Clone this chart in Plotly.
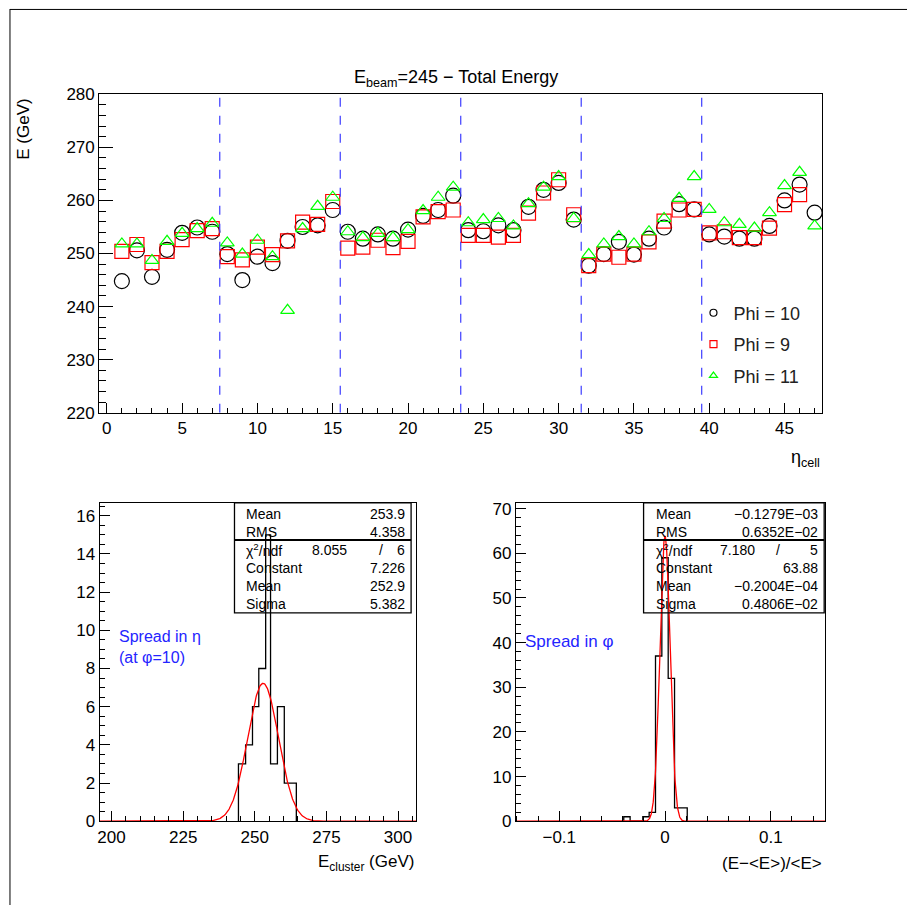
import numpy as np
import plotly.graph_objects as go

# ---------------- data ----------------
eta_cell = list(range(1, 48))

e_phi10 = [244.8, 250.6, 245.6, 250.7, 253.9, 254.9, 254.1, 249.9, 245.0, 249.4,
           248.2, 252.4, 255.0, 255.3, 258.2, 254.1, 252.8, 253.6, 252.8, 254.5,
           257.1, 258.2, 260.9, 254.4, 254.2, 255.3, 254.4, 258.8, 262.0, 263.3,
           256.4, 247.7, 249.9, 252.2, 249.8, 252.8, 254.9, 259.3, 258.3, 253.6,
           253.2, 252.8, 252.8, 255.2, 260.0, 263.0, 257.7]

e_phi9 = [250.4, 251.7, 248.3, 250.4, 252.6, 254.3, 254.7, 249.4, 248.8, 251.2,
          249.8, 252.4, 255.9, 255.5, 259.8, 251.0, 251.2, 252.5, 251.1, 252.3,
          256.9, 257.9, 258.2, 253.4, 253.4, 253.1, 253.4, 257.6, 261.4, 263.9,
          257.3, 247.7, 249.9, 249.3, 249.9, 252.2, 256.1, 258.2, 258.3, 253.9,
          254.1, 253.0, 253.0, 254.8, 259.2, 261.1, None]

e_phi11 = [251.8, 251.8, 248.7, 252.3, 253.8, 254.7, 255.7, 252.0, 249.9, 252.5,
           249.4, 239.3, 254.7, 258.9, 260.6, 254.1, 253.0, 253.8, 253.0, 254.5,
           258.1, 260.6, 262.5, 255.8, 256.4, 256.6, 255.2, 259.4, 262.5, 264.5,
           256.6, 249.8, 251.8, 253.2, 251.8, 254.1, 256.6, 260.4, 264.5, 258.3,
           255.8, 255.5, 254.8, 257.7, 262.8, 265.3, 255.2]

module_edges = [7.5, 15.5, 23.5, 31.5, 39.5]

# spread in eta (phi = 10): cluster energy histogram
eta_bin_edges = [244.3, 246.8, 249.2, 251.4, 253.8, 255.5, 257.9, 260.3, 262.4, 264.5]
eta_counts = [3, 4, 6, 8, 15, 3, 6, 2, 2]
eta_stats = {"mean": 253.9, "rms": 4.358}
eta_fit = {"chi2": 8.055, "ndf": 6, "const": 7.226, "mean": 252.9, "sigma": 5.382}

# spread in phi: relative deviation histogram
phi_bin_edges = [-0.039, -0.033, -0.027, -0.021, -0.015, -0.009, -0.003,
                 0.003, 0.009, 0.015, 0.021]
phi_counts = [1, 0, 0, 1, 2, 37, 59, 32, 3, 3]
phi_stats = {"mean": "-0.1279E-03", "rms": "0.6352E-02"}
phi_fit = {"chi2": 7.180, "ndf": 5, "const": 63.88, "mean": -0.2004e-04, "sigma": 0.4806e-02}
phi_fit_text = {"const": "63.88", "mean": "-0.2004E-04", "sigma": "0.4806E-02"}

# ---------------- layout helpers ----------------
# positions below are given in window pixels; the page shows the figure a few
# pixels below the window top and slightly squeezed vertically
W = 907
H = 916
Y_SCALE = 0.978
Y_SHIFT = 9
FONT = "Liberation Sans"
MINUS = "\u2212"


def px(x):
    return x / W


def py(y):
    return 1 - (y / Y_SCALE - Y_SHIFT) / H


fig = go.Figure()

# top panel: total energy vs eta cell
fig.add_trace(go.Scatter(x=eta_cell, y=e_phi10, mode="markers", showlegend=False,
                         marker=dict(symbol="circle-open", size=15, color="black",
                                     line=dict(width=1.2)),
                         xaxis="x", yaxis="y"))
fig.add_trace(go.Scatter(x=eta_cell, y=e_phi9, mode="markers", showlegend=False,
                         marker=dict(symbol="square-open", size=14, color="red",
                                     line=dict(width=1.2)),
                         xaxis="x", yaxis="y"))
fig.add_trace(go.Scatter(x=eta_cell, y=e_phi11, mode="markers", showlegend=False,
                         marker=dict(symbol="triangle-up-open", size=12, color="#00ff00",
                                     line=dict(width=1.2)),
                         xaxis="x", yaxis="y"))

# legend entries with small symbols
for name, sym, col in [("Phi = 10", "circle-open", "black"),
                       ("Phi = 9", "square-open", "red"),
                       ("Phi = 11", "triangle-up-open", "#00ff00")]:
    fig.add_trace(go.Scatter(x=[None], y=[None], mode="markers", name=name,
                             legendgroup=name,
                             marker=dict(symbol=sym, size=7, color=col, line=dict(width=1.2)),
                             xaxis="x", yaxis="y"))

# module boundaries
for xe in module_edges:
    fig.add_shape(type="line", xref="x", yref="y", x0=xe, x1=xe, y0=220, y1=280,
                  line=dict(color="#3c3cff", width=1.2, dash="dash"))


def step_xy(edges, counts):
    xs = [edges[0]] + list(edges)
    ys = [0] + list(counts) + [0]
    return xs, ys


def gauss(x, c, m, s):
    return c * np.exp(-0.5 * ((x - m) / s) ** 2)


ETA_RANGE = [195.9, 306.3]
PHI_RANGE = [-0.141, 0.1514]

# bottom-left histogram
hx, hy = step_xy(eta_bin_edges, eta_counts)
fig.add_trace(go.Scatter(x=hx, y=hy, mode="lines", line_shape="hv", showlegend=False,
                         line=dict(color="black", width=1.3), xaxis="x2", yaxis="y2"))
gx = np.linspace(ETA_RANGE[0], ETA_RANGE[1], 600)
fig.add_trace(go.Scatter(x=gx, y=gauss(gx, eta_fit["const"], eta_fit["mean"], eta_fit["sigma"]),
                         mode="lines", showlegend=False, line=dict(color="red", width=1.3),
                         xaxis="x2", yaxis="y2"))

# bottom-right histogram
hx, hy = step_xy(phi_bin_edges, phi_counts)
fig.add_trace(go.Scatter(x=hx, y=hy, mode="lines", line_shape="hv", showlegend=False,
                         line=dict(color="black", width=1.3), xaxis="x3", yaxis="y3"))
gx = np.linspace(PHI_RANGE[0], PHI_RANGE[1], 1500)
fig.add_trace(go.Scatter(x=gx, y=gauss(gx, phi_fit["const"], phi_fit["mean"], phi_fit["sigma"]),
                         mode="lines", showlegend=False, line=dict(color="red", width=1.3),
                         xaxis="x3", yaxis="y3"))

tickfont = dict(family=FONT, size=17, color="black")
axis_common = dict(showline=True, linecolor="black", linewidth=1.2, mirror=True,
                   ticks="inside", tickcolor="black", showgrid=False, zeroline=False,
                   tickfont=tickfont)

fig.update_layout(
    width=W, height=H, margin=dict(l=0, r=0, t=0, b=0),
    paper_bgcolor="white", plot_bgcolor="white",
    font=dict(family=FONT, color="black"),
    xaxis=dict(domain=[px(97.5), px(822)], anchor="y", range=[-0.5, 47.5],
               tick0=0, dtick=5, ticklen=10,
               minor=dict(dtick=1, ticklen=5, ticks="inside", tickcolor="black"),
               **axis_common),
    yaxis=dict(domain=[py(412), py(94)], anchor="x", range=[220, 280],
               dtick=10, ticklen=14,
               minor=dict(dtick=2, ticklen=7, ticks="inside", tickcolor="black"),
               **axis_common),
    xaxis2=dict(domain=[px(98), px(415)], anchor="y2", range=ETA_RANGE,
                tick0=200, dtick=25, ticklen=10,
                minor=dict(dtick=5, ticklen=5, ticks="inside", tickcolor="black"),
                **axis_common),
    yaxis2=dict(domain=[py(820), py(502)], anchor="x2", range=[0, 16.68],
                dtick=2, ticklen=10,
                minor=dict(dtick=0.5, ticklen=5, ticks="inside", tickcolor="black"),
                **axis_common),
    xaxis3=dict(domain=[px(515), px(825)], anchor="y3", range=PHI_RANGE,
                tick0=0, dtick=0.1, ticklen=10,
                minor=dict(dtick=0.02, ticklen=5, ticks="inside", tickcolor="black"),
                **axis_common),
    yaxis3=dict(domain=[py(820), py(502)], anchor="x3", range=[0, 71.3],
                dtick=10, ticklen=10,
                minor=dict(dtick=2, ticklen=5, ticks="inside", tickcolor="black"),
                **axis_common),
    legend=dict(x=px(693), y=py(294), xanchor="left", yanchor="top",
                bgcolor="rgba(0,0,0,0)", borderwidth=0, tracegroupgap=5,
                font=dict(family=FONT, size=18, color="#222222")),
)

ann = []


def text(x, y, s, size=17, xanchor="center", yanchor="middle", color="black", angle=0):
    ann.append(dict(x=px(x), y=py(y), xref="paper", yref="paper", text=s, showarrow=False,
                    xanchor=xanchor, yanchor=yanchor, textangle=angle, align="left",
                    font=dict(family=FONT, size=size, color=color)))


# titles
text(455, 78, "E<sub>beam</sub>=245 " + MINUS + " Total Energy", size=18)
text(22, 96, "E (GeV)", size=17, xanchor="center", yanchor="top", angle=-90)
text(822, 458, "\u03b7<sub>cell</sub>", size=18, xanchor="right")
text(415, 862, "E<sub>cluster</sub> (GeV)", size=17, xanchor="right")
text(824, 862, "(E" + MINUS + "<E>)/<E>", size=17, xanchor="right")
text(115, 646, "Spread in \u03b7<br>(at \u03c6=10)", size=16, xanchor="left", color="#2424ff")
text(522, 640, "Spread in \u03c6", size=17, xanchor="left", color="#2424ff")


def stats_box(left, right, rows_top, rows_fit, chi_txt, chi_x, slash_x, ndf):
    top, div, bottom = 502, 539, 612
    fig.add_shape(type="rect", xref="paper", yref="paper", x0=px(left), x1=px(right),
                  y0=py(bottom), y1=py(top), line=dict(color="black", width=1.3),
                  fillcolor="rgba(0,0,0,0)", layer="above")
    fig.add_shape(type="line", xref="paper", yref="paper", x0=px(left), x1=px(right),
                  y0=py(div), y1=py(div), line=dict(color="black", width=2))
    ys = [512.7, 530.7, 549, 567, 585, 603.3]
    rows = rows_top + [None] + rows_fit
    for yy, row in zip(ys, rows):
        if row is None:
            continue
        lab, val = row
        text(left + 10, yy, lab, size=14, xanchor="left")
        text(right - 4, yy, val, size=14, xanchor="right")
    text(left + 10, ys[2], "\u03c7<sup>2</sup>/ndf", size=14, xanchor="left")
    text(chi_x, ys[2], chi_txt, size=14, xanchor="right")
    text(slash_x, ys[2], "/", size=14)
    text(right - 4, ys[2], str(ndf), size=14, xanchor="right")


def sci(s):
    return s.replace("-", MINUS)


stats_box(233, 410,
          [("Mean", "%.1f" % eta_stats["mean"]), ("RMS", "%.3f" % eta_stats["rms"])],
          [("Constant", "%.3f" % eta_fit["const"]), ("Mean", "%.1f" % eta_fit["mean"]),
           ("Sigma", "%.3f" % eta_fit["sigma"])],
          "%.3f" % eta_fit["chi2"], 348, 380, eta_fit["ndf"])
stats_box(643, 824,
          [("Mean", sci(phi_stats["mean"])), ("RMS", sci(phi_stats["rms"]))],
          [("Constant", phi_fit_text["const"]), ("Mean", sci(phi_fit_text["mean"])),
           ("Sigma", sci(phi_fit_text["sigma"]))],
          "%.3f" % phi_fit["chi2"], 757, 778, phi_fit["ndf"])

# page frame
fig.add_shape(type="line", xref="paper", yref="paper", x0=px(8), x1=px(8), y0=0, y1=1,
              line=dict(color="black", width=1))
fig.add_shape(type="line", xref="paper", yref="paper", x0=px(8), x1=1, y0=0.9995,
              y1=0.9995, line=dict(color="black", width=1))

fig.update_layout(annotations=ann)
fig.write_html("out.html")
